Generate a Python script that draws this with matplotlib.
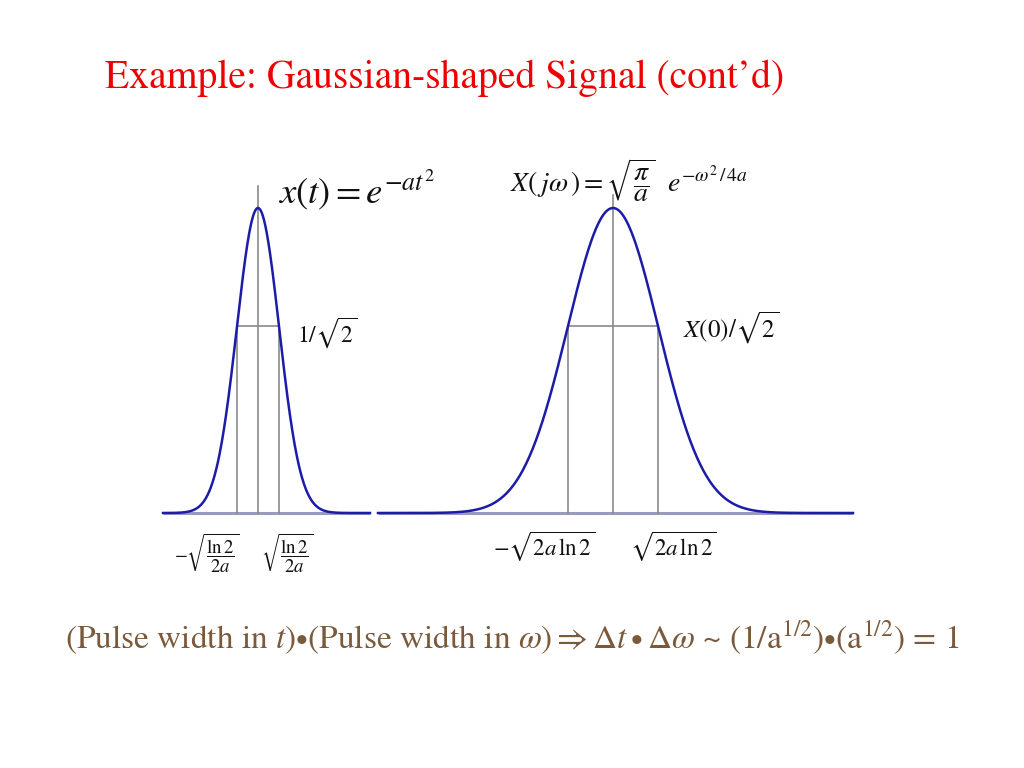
import numpy as np
import matplotlib.pyplot as plt

plt.rcParams['mathtext.fontset'] = 'stix'
plt.rcParams['font.family'] = ['STIXGeneral', 'DejaVu Serif']

# slide positions in pixels (x to the right, y downwards)
base_y = 513
peak_y = 208
half_y = 326
centers = [258, 613]
spreads = [21.2, 45.5]          # gaussian spread of each pulse
half_w = [21, 45]               # half width at the 1/sqrt(2) level
spans = [(163, 370), (378, 853)]
center_top = [186, 195]

fig = plt.figure(figsize=(10.24, 7.68), dpi=100)
ax = fig.add_axes([0, 0, 1, 1])
ax.set_xlim(0, 1024)
ax.set_ylim(768, 0)
ax.axis('off')

curve_col = '#1c1ca8'
line_col = '#8a8a8a'

for c, s, hw, (x0, x1), top in zip(centers, spreads, half_w, spans, center_top):
    x = np.linspace(x0, x1, 600)
    y = base_y - (base_y - peak_y) * np.exp(-(x - c) ** 2 / (2 * s ** 2))
    ax.plot([x0, x1], [base_y, base_y], color='#9a9ac0', lw=2.2, solid_capstyle='butt')
    ax.plot([c, c], [base_y, top], color=line_col, lw=1.2)
    ax.plot([c - hw, c - hw], [base_y, half_y], color=line_col, lw=1.2)
    ax.plot([c + hw, c + hw], [base_y, half_y], color=line_col, lw=1.2)
    ax.plot([c - hw, c + hw], [half_y, half_y], color=line_col, lw=1.2)
    ax.plot(x, y, color=curve_col, lw=1.8)

ax.text(105, 78, 'Example: Gaussian-shaped Signal (cont\u2019d)', color='#ee0000',
        fontsize=28.5, va='center', ha='left')

ax.text(278, 190, r'$x(t) = e^{-at^{2}}$', fontsize=26.5, va='center', ha='left', color='#111111')
ax.text(510, 180, r'$X(\,j\omega\,) = \sqrt{\dfrac{\pi}{a}}\ \ e^{-\omega^{2}\,/\,4a}$', fontsize=20,
        va='center', ha='left', color='#111111')
ax.text(297, 333, r'$\mathrm{1}/\sqrt{2}$', fontsize=17, va='center', ha='left', color='#111111')
ax.text(683, 328, r'$X(0)/\sqrt{2}$', fontsize=18, va='center', ha='left', color='#111111')

ax.text(174, 553, r'$-\sqrt{\dfrac{\mathrm{ln}\,2}{2a}}$', fontsize=13.5, va='center', ha='left', color='#111111')
ax.text(261, 553, r'$\sqrt{\dfrac{\mathrm{ln}\,2}{2a}}$', fontsize=13.5, va='center', ha='left', color='#111111')
ax.text(493, 547, r'$-\sqrt{2a\,\mathrm{ln}\,2}$', fontsize=16.5, va='center', ha='left', color='#111111')
ax.text(630, 547, r'$\sqrt{2a\,\mathrm{ln}\,2}$', fontsize=16.5, va='center', ha='left', color='#111111')

ax.text(65, 637, r'(Pulse width in $t$)$\bullet$(Pulse width in $\omega$)$\Rightarrow\Delta t\bullet\Delta\omega$'
        r' ~ (1/a$^{1/2}$)$\bullet$(a$^{1/2}$) = 1',
        fontsize=24, va='center', ha='left', color='#7a5a3a')

fig.savefig('out.png', dpi=100)
